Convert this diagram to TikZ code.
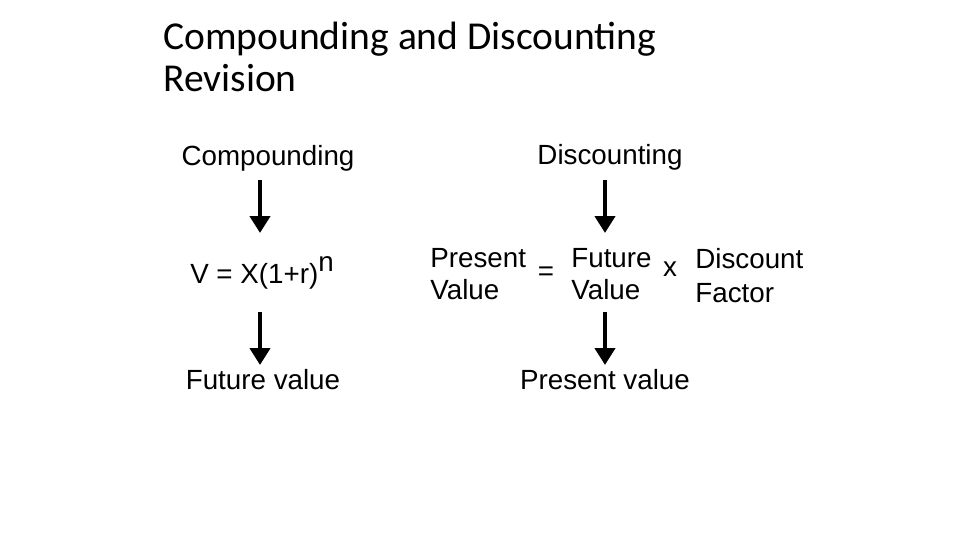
\documentclass[tikz,border=0pt]{standalone}
\usepackage{fontspec}
\setmainfont{Liberation Sans}
\newfontfamily\titlefont{Carlito}
\usetikzlibrary{arrows.meta}
\begin{document}
\begin{tikzpicture}[x=0.02cm,y=-0.02cm,
  ttl/.style={anchor=base west,inner sep=0,font=\titlefont\fontsize{22.5}{27}\selectfont},
  txt/.style={inner sep=0,font=\fontsize{15.8}{19}\selectfont},
  bigarrow/.style={line width=0.09cm,-{Triangle[width=0.4cm,length=0.34cm]}}]
\useasboundingbox (0,0) rectangle (960,540);
\node[ttl] (t1) at (163,50) {Compounding and Discounting};
\node[ttl] (t2) at (163,92) {Revision};
\node[txt,anchor=base] (comp) at (268,166) {Compounding};
\node[txt,anchor=base] (form) at (262,284) {V = X(1+r)\raisebox{0.45em}{n}};
\node[txt,anchor=base] (fv) at (263,390) {Future value};
\node[txt,anchor=base] (disc) at (610,165) {Discounting};
\node[txt,anchor=base west] (pv1) at (430,268) {Present};
\node[txt,anchor=base west] (pv2) at (430,300) {Value};
\node[txt,anchor=base] (eq) at (546,281) {=};
\node[txt,anchor=base west] (fu1) at (571,268) {Future};
\node[txt,anchor=base west] (fu2) at (571,300) {Value};
\node[txt,anchor=base] (x) at (670,277) {x};
\node[txt,anchor=base west] (df1) at (695,269) {Discount};
\node[txt,anchor=base west] (df2) at (695,303) {Factor};
\node[txt,anchor=base] (pv) at (605,390) {Present value};
\coordinate (a1s) at (260,180); \coordinate (a1e) at (260,233);
\coordinate (a2s) at (260,312); \coordinate (a2e) at (260,365);
\coordinate (a3s) at (605,180); \coordinate (a3e) at (605,233);
\coordinate (a4s) at (605,312); \coordinate (a4e) at (605,365);
\draw[bigarrow] (a1s) -- (a1e);
\draw[bigarrow] (a2s) -- (a2e);
\draw[bigarrow] (a3s) -- (a3e);
\draw[bigarrow] (a4s) -- (a4e);
\end{tikzpicture}
\end{document}
